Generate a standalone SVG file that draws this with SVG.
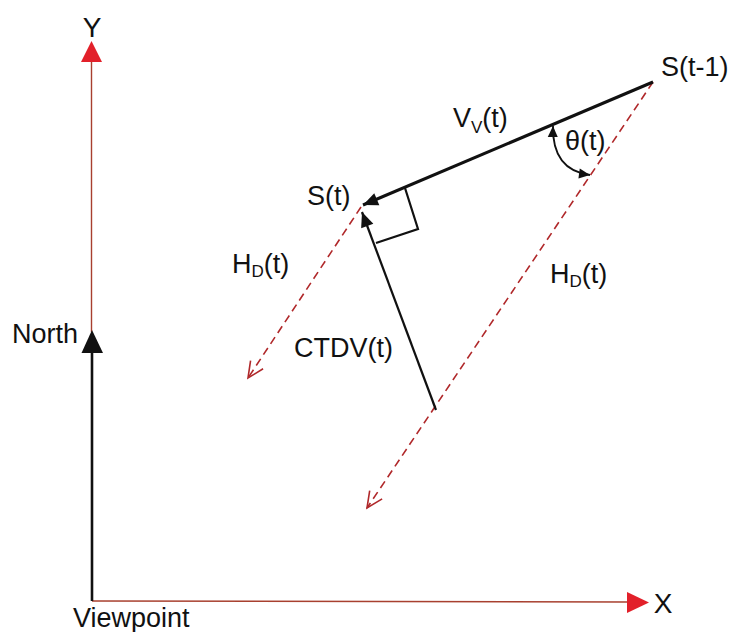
<svg xmlns="http://www.w3.org/2000/svg" width="733" height="632" viewBox="0 0 733 632">
<style>
text{font-family:"Liberation Sans",Arial,sans-serif;font-size:27px;fill:#111}
.sub{font-size:17px}
.axis{stroke:#a8402f;stroke-width:1.4;fill:none}
.tri{fill:#e2202a}
.solid{stroke:#111;fill:none}
.dash{stroke:#b0282a;stroke-width:1.6;stroke-dasharray:8 5;fill:none}
</style>
<defs>
<marker id="ah" markerUnits="userSpaceOnUse" markerWidth="20" markerHeight="20" refX="0" refY="0" orient="auto" overflow="visible">
<path d="M0,0 L-15,-6.5 L-15,6.5 Z" fill="#111"/>
</marker>
<marker id="ahs" markerUnits="userSpaceOnUse" markerWidth="14" markerHeight="14" refX="0" refY="0" orient="auto-start-reverse" overflow="visible">
<path d="M0,0 L-11,-5 L-11,5 Z" fill="#111"/>
</marker>
<marker id="open" markerUnits="userSpaceOnUse" markerWidth="20" markerHeight="20" refX="0" refY="0" orient="auto" overflow="visible">
<path d="M-16,-7.5 L0,0 L-16,7.5" fill="none" stroke="#b0282a" stroke-width="1.6"/>
</marker>
</defs>

<g id="axes">
<line class="axis" x1="91.5" y1="62" x2="91.5" y2="332"/>
<polygon class="tri" points="81,62 102,62 91.5,41"/>
<line class="axis" x1="92" y1="601" x2="628" y2="602"/>
<polygon class="tri" points="627,592 627,613 649,602.5"/>
<line class="solid" stroke-width="2.6" x1="92" y1="601" x2="92" y2="352"/>
<polygon points="81.5,353 103,353 92,330" fill="#111"/>
</g>

<g id="labels-axes">
<text x="92" y="37" text-anchor="middle" style="font-size:28px">Y</text>
<text x="663" y="613" text-anchor="middle" style="font-size:28px">X</text>
<text x="12" y="343">North</text>
<text x="73" y="627">Viewpoint</text>
</g>

<g id="connectors">
<line class="dash" x1="653" y1="82" x2="367" y2="508" marker-end="url(#open)"/>
<line class="dash" x1="361" y1="207" x2="248" y2="378" marker-end="url(#open)"/>
<line class="solid" stroke-width="3" x1="653" y1="82" x2="363" y2="205" marker-end="url(#ah)"/>
<line class="solid" stroke-width="2.2" x1="436" y1="410" x2="362" y2="212" marker-end="url(#ah)"/>
<polyline class="solid" stroke-width="2.2" points="405,188 418,229 376,243"/>
<path class="solid" stroke-width="1.8" d="M553,126 Q552,170 590,175" marker-start="url(#ahs)" marker-end="url(#ahs)"/>
</g>

<g id="node-St1"><text x="661" y="76">S(t-1)</text></g>
<g id="node-St"><text x="307" y="205">S(t)</text></g>
<g id="label-Vv"><text x="453" y="127">V<tspan class="sub" dy="6">V</tspan><tspan dy="-6">(t)</tspan></text></g>
<g id="label-theta"><text x="565" y="150">θ(t)</text></g>
<g id="label-HD-left"><text x="232" y="273">H<tspan class="sub" dy="4">D</tspan><tspan dy="-4">(t)</tspan></text></g>
<g id="label-HD-right"><text x="550" y="283">H<tspan class="sub" dy="4">D</tspan><tspan dy="-4">(t)</tspan></text></g>
<g id="label-CTDV"><text x="294" y="357">CTDV(t)</text></g>
</svg>
